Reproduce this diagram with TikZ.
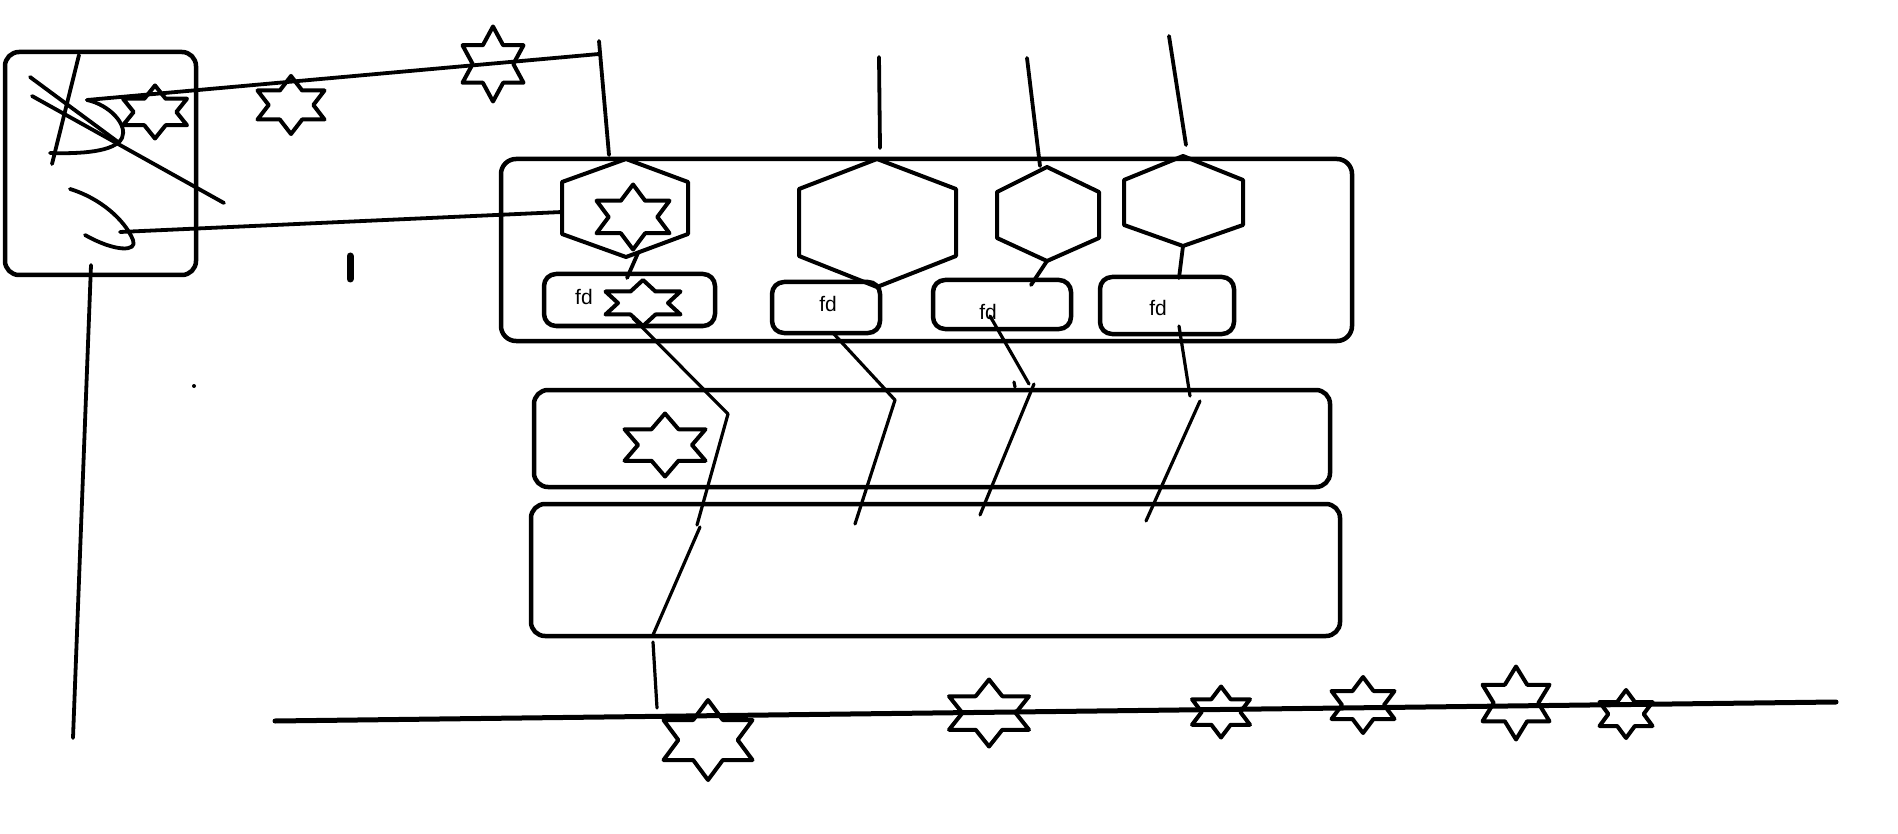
\documentclass[tikz,border=0pt]{standalone}
\usepackage{fontspec}
\setmainfont{Liberation Sans}
\newcommand{\hexstar}[5]{%
  \coordinate (#1) at (#2,#3);
  \draw[starline, shift={(#2,#3)}, xscale=#4, yscale=#5]
    (0,-0.5) -- (0.1667,-0.25) -- (0.5,-0.25) -- (0.3333,0) -- (0.5,0.25) -- (0.1667,0.25)
    -- (0,0.5) -- (-0.1667,0.25) -- (-0.5,0.25) -- (-0.3333,0) -- (-0.5,-0.25) -- (-0.1667,-0.25) -- cycle;}
\begin{document}
\begin{tikzpicture}[x=1pt,y=-1pt, line join=round, line cap=round,
  box/.style={draw, line width=4.5pt, rounded corners=14pt, inner sep=0pt},
  fdbox/.style={draw, line width=4.5pt, rounded corners=12pt, inner sep=0pt},
  hexline/.style={line width=4pt},
  wire/.style={line width=3.8pt},
  thinwire/.style={line width=3.2pt},
  starline/.style={line width=4pt},
  lbl/.style={font=\fontsize{21}{21}\selectfont, inner sep=0pt}]
\useasboundingbox (0,0) rectangle (1898,834);

% left box
\node[box, minimum width=191pt, minimum height=223pt] (lb) at (100.5,163.5) {};
\coordinate (c1s) at (87,100);
\coordinate (hk) at (120,232);
\draw[wire] (79,55) -- (52,164);
\draw[wire] (30,77) -- (118,142);
\draw[wire] (32,96) -- (224,203);
\draw[wire] (c1s) .. controls (110,105) and (128,125) .. (122,138) .. controls (115,152) and (80,154) .. (50,153);
\draw[wire] (70,189) .. controls (100,198) and (125,220) .. (133,240) .. controls (138,252) and (115,252) .. (85,235);
\coordinate (lbtail) at (91,265);
\coordinate (lbend) at (73,738);
\draw[wire] (lbtail) -- (lbend);
\draw[line width=7pt] (350,256) -- (350,279);
\fill (194,386) circle (2pt);

% container and lower boxes
\node[box, rounded corners=15pt, minimum width=851pt, minimum height=182pt] (top) at (926.5,250) {};
\node[box, minimum width=796pt, minimum height=97pt] (mid) at (932,438.5) {};
\node[box, minimum width=809pt, minimum height=132pt] (bot) at (935.5,570) {};

% hexagons
\draw[hexline] (626,159) -- (688,182) -- (688,234) -- (626,257) -- (562,234) -- (562,182) -- cycle;
\draw[hexline] (877,159) -- (956,189) -- (956,256) -- (877,287) -- (799,256) -- (799,189) -- cycle;
\draw[hexline] (1047,167) -- (1099,192) -- (1099,238) -- (1047,261) -- (997,238) -- (997,192) -- cycle;
\draw[hexline] (1183,156) -- (1243,180) -- (1243,225) -- (1183,246) -- (1124,225) -- (1124,180) -- cycle;
\coordinate (h1l) at (562,212);
\coordinate (h3b) at (1047,261);
\coordinate (h4b) at (1183,246);

% fd boxes
\node[fdbox, minimum width=171pt, minimum height=52pt] (fd1) at (629.5,300) {};
\node[fdbox, minimum width=108pt, minimum height=51pt] (fd2) at (826,307.5) {};
\node[fdbox, minimum width=138pt, minimum height=49pt] (fd3) at (1002,304.5) {};
\node[fdbox, minimum width=134pt, minimum height=57pt] (fd4) at (1167,305.5) {};
\node[lbl] (t1) at (584,297) {fd};
\node[lbl] (t2) at (828,304) {fd};
\node[lbl] (t3) at (988,312) {fd};
\node[lbl] (t4) at (1158,308) {fd};

% stars
\hexstar{T1}{155}{112}{64}{53}
\hexstar{T2}{291}{105}{67}{58}
\hexstar{T3}{493}{64}{61}{75}
\hexstar{HS}{633}{217}{73}{65}
\hexstar{FS}{643}{303}{75}{46}
\hexstar{MS}{665}{445}{81}{63}
\hexstar{S1}{708}{740}{89}{80}
\hexstar{S2}{989}{713}{80}{67}
\hexstar{S3}{1221}{712}{58}{51}
\hexstar{S4}{1363}{705}{63}{56}
\hexstar{S5}{1516}{703}{67}{73}
\hexstar{S6}{1626}{714}{53}{48}

% top wires
\coordinate (tc) at (599,54);
\draw[wire] (c1s) -- (tc);
\draw[wire] (599,41) -- (609,155);
\draw[wire] (hk) -- (h1l);
\draw[wire] (879,57) -- (880,148);
\draw[wire] (1027,58) -- (1040,166);
\draw[wire] (1169,36) -- (1186,145);

% inner links
\draw[wire] (638,253) -- (627,278);
\draw[wire] (h3b) -- (1031,285);
\draw[wire] (h4b) -- (1179,278);

% down wires
\draw[thinwire] (633,318) -- (728,414) -- (697,525);
\draw[thinwire] (700,527) -- (653,635);
\draw[thinwire] (653,642) -- (657,708);
\draw[thinwire] (833,333) -- (895,400) -- (855,524);
\draw[thinwire] (990,316) -- (1029,384);
\draw[thinwire] (1014,382) -- (1015,387);
\draw[thinwire] (1034,384) -- (980,515);
\draw[thinwire] (1179,326) -- (1190,396);
\draw[thinwire] (1200,401) -- (1146,521);

% bottom line
\coordinate (bl0) at (275,721);
\coordinate (bl1) at (1836,702);
\draw[line width=5pt] (bl0) -- (bl1);
\end{tikzpicture}
\end{document}
